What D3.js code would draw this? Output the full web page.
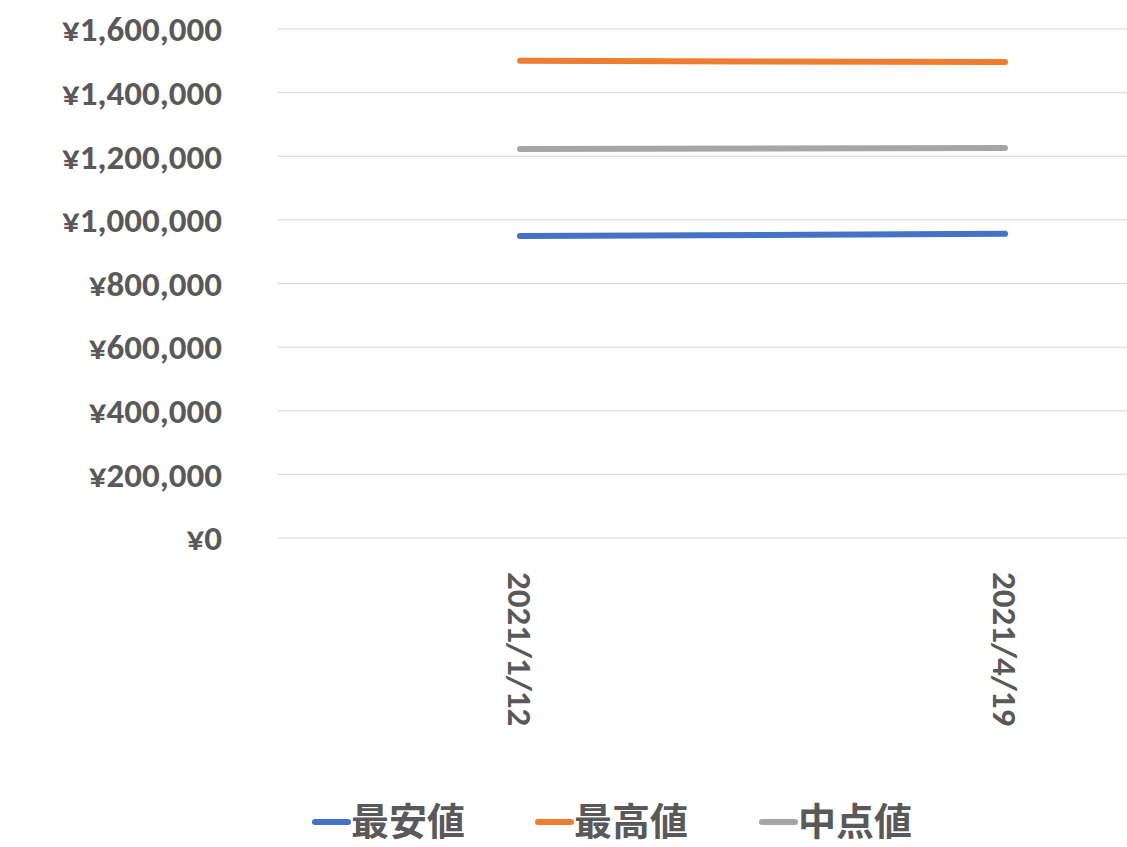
<!DOCTYPE html>
<html><head><meta charset="utf-8">
<script src="https://cdn.jsdelivr.net/npm/d3@7"></script>
<style>body{margin:0;background:#fff}text{font-family:Calibri,"Liberation Sans","Noto Sans CJK JP",sans-serif;font-weight:bold;fill:#595959}</style>
</head><body><svg id="c" width="1127" height="847"></svg>
<script>
const categories = ["2021/1/12", "2021/4/19"];
const seriesNames = ["最安値", "最高値", "中点値"];
const minValues = [949000, 956000];
const maxValues = [1500000, 1496000];
const midValues = [1223000, 1226000];
const yTicks = [0,200000,400000,600000,800000,1000000,1200000,1400000,1600000];
const colors = ["#4472C4", "#ED7D31", "#A5A5A5"];
const series = [minValues, maxValues, midValues];

(function(){
const svg = d3.select("#c");
const pl = 278, pr = 1127, pt = 29, pb = 538;
const x = d3.scalePoint().domain(categories).range([520, 1005]);
const y = d3.scaleLinear().domain([0, 1600000]).range([pb, pt]);

svg.append("g").selectAll("line").data(yTicks).join("line")
  .attr("x1", pl).attr("x2", pr).attr("y1", d=>y(d)).attr("y2", d=>y(d))
  .attr("stroke", "#d9d9d9").attr("stroke-width", 1);

svg.append("g").selectAll("text").data(yTicks).join("text")
  .attr("x", 222).attr("y", d=>y(d)).attr("dy", "0.35em").attr("text-anchor", "end")
  .attr("font-size", 35).text(d=>"¥"+d3.format(",")(d));

svg.append("g").selectAll("text").data(categories).join("text")
  .attr("transform", d=>`translate(${x(d)},572) rotate(90)`)
  .attr("dy", "0.35em").attr("font-size", 35).text(d=>d);

const line = d3.line().x((d,i)=>x(categories[i])).y(d=>y(d));
series.forEach((s,i)=>svg.append("path").attr("d", line(s)).attr("fill","none")
  .attr("stroke", colors[i]).attr("stroke-width", 6).attr("stroke-linecap","round"));

const lx = [315, 538, 762];
seriesNames.forEach((n,i)=>{
  svg.append("line").attr("x1", lx[i]).attr("x2", lx[i]+33).attr("y1", 822).attr("y2", 822)
    .attr("stroke", colors[i]).attr("stroke-width", 6).attr("stroke-linecap","round");
  svg.append("text").attr("x", lx[i]+36).attr("y", 822).attr("dy","0.35em")
    .attr("font-size", 38).text(n);
});
})();
</script></body></html>
